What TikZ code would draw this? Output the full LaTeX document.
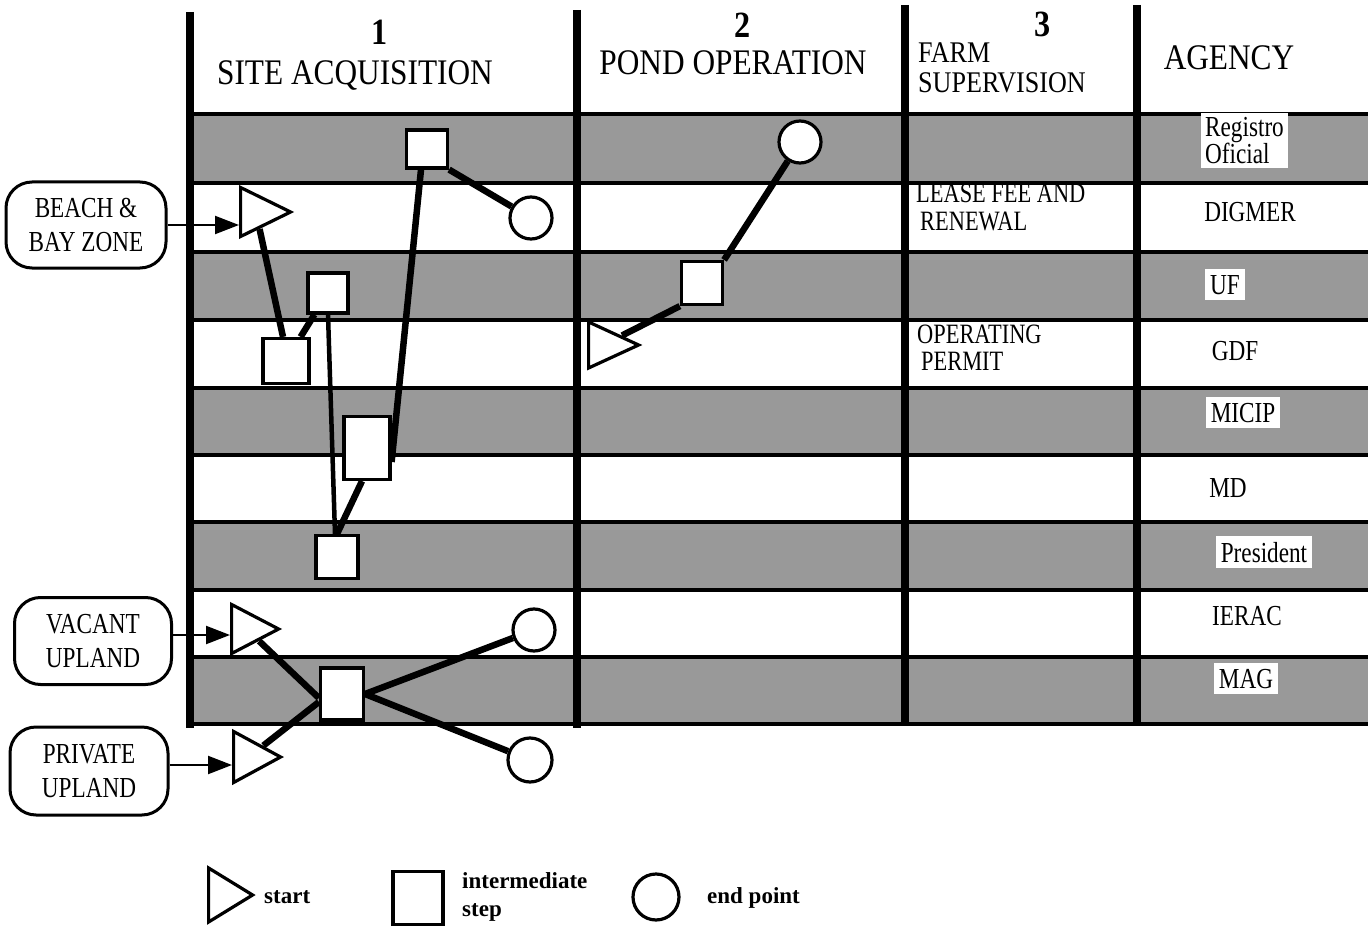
\documentclass[tikz,border=0pt]{standalone}
\usepackage{fontspec}
\setmainfont[FakeStretch=0.87]{Liberation Serif}
\newfontfamily\legendfont{Liberation Serif}
\newfontfamily\condfont[FakeStretch=0.8]{Liberation Serif}
\usetikzlibrary{shapes.geometric,arrows.meta,calc}
\begin{document}
\begin{tikzpicture}[x=1pt,y=-1pt,
  shaderow/.style={fill=black!40},
  hline/.style={line width=4.5pt},
  vline/.style={line width=8pt},
  startnode/.style={isosceles triangle, isosceles triangle stretches, draw, fill=white, line width=3.2pt, inner sep=0pt, anchor=west},
  stepbox/.style={rectangle, draw, fill=white, line width=3.2pt, inner sep=0pt},
  endbox/.style={circle, draw, fill=white, line width=3.2pt, inner sep=0pt, minimum size=42pt},
  conn/.style={line width=6.5pt},
  thinconn/.style={line width=4.5pt},
  feed/.style={line width=2.2pt, -{Triangle[length=24pt,width=18pt]}},
  srcbox/.style={draw, fill=white, rounded corners=26pt, line width=3pt, align=center, inner sep=0pt, font=\condfont\fontsize{29}{34}\selectfont},
  hnum/.style={font=\fontsize{37}{40}\selectfont\bfseries, inner sep=0pt},
  htext/.style={font=\fontsize{36}{40}\selectfont, inner sep=0pt},
  htextsm/.style={font=\fontsize{30}{34}\selectfont, inner sep=0pt, anchor=base west},
  celltext/.style={font=\condfont\fontsize{28}{28}\selectfont, inner sep=0pt, anchor=base west},
  agency/.style={font=\condfont\fontsize{29}{28}\selectfont, inner sep=0pt, anchor=base},
  agencyhl/.style={font=\condfont\fontsize{29}{28}\selectfont, fill=white, inner xsep=5pt, inner ysep=6pt, anchor=base},
  legendtext/.style={font=\legendfont\bfseries\fontsize{23}{26}\selectfont, inner sep=0pt, anchor=base west}
]
\useasboundingbox (0,0) rectangle (1368,928);

% shaded rows
\foreach \ya/\yb in {114/183, 252/320, 388/455, 522/590, 657/724}
  \fill[shaderow] (190,\ya) rectangle (1368,\yb);
% horizontal lines
\foreach \yy in {114,183,252,320,388,455,522,590,657,724}
  \draw[hline] (190,\yy) -- (1368,\yy);
% vertical lines
\draw[vline] (190,12) -- (190,728);
\draw[vline] (577,10) -- (577,728);
\draw[vline] (905,5) -- (905,724);
\draw[vline] (1137,5) -- (1137,722);

% headers
\node[hnum, anchor=base] (n1) at (380,45) {1};
\node[htext, anchor=base] (h1) at (355,85) {SITE ACQUISITION};
\node[hnum, anchor=base] (n2) at (743,38) {2};
\node[htext, anchor=base] (h2) at (733,75) {POND OPERATION};
\node[hnum, anchor=base] (n3) at (1043,37) {3};
\node[htextsm] (h3a) at (918,63) {FARM};
\node[htextsm] (h3b) at (918,93) {SUPERVISION};
\node[htext, anchor=base] (h4) at (1229,70) {AGENCY};

% column 3 texts
\node[celltext] (lease1) at (916,203) {LEASE FEE AND};
\node[celltext] (lease2) at (920,230) {RENEWAL};
\node[celltext] (op1) at (917,343) {OPERATING};
\node[celltext] (op2) at (921,370) {PERMIT};

% agency column
\node[font=\condfont\fontsize{29}{27}\selectfont, fill=white, align=left, inner xsep=4pt, inner ysep=4pt, anchor=north west] (reg) at (1201,113) {Registro\\Oficial};
\node[agency] (digmer) at (1250,222) {DIGMER};
\node[agencyhl] (uf) at (1225,294) {UF};
\node[agency] (gdf) at (1235,360) {GDF};
\node[agencyhl] (micip) at (1243,422) {MICIP};
\node[agency] (md) at (1228,497) {MD};
\node[agencyhl] (pres) at (1264,562) {President};
\node[agency] (ierac) at (1247,625) {IERAC};
\node[agencyhl] (mag) at (1246,688) {MAG};

% source boxes
\node[srcbox, minimum width=160pt, minimum height=86pt] (beach) at (86,225) {BEACH \&\\BAY ZONE};
\node[srcbox, minimum width=157pt, minimum height=87pt] (vacant) at (93,641) {VACANT\\UPLAND};
\node[srcbox, minimum width=158pt, minimum height=88pt] (private) at (89,771) {PRIVATE\\UPLAND};

% column 1 nodes (minimum width = base, minimum height = apex distance)
\node[startnode, minimum width=49pt, minimum height=50pt] (T1) at (239,212) {};
\node[stepbox, minimum width=41pt, minimum height=38pt] (A) at (427,149) {};
\node[endbox] (cA) at (531,218) {};
\node[stepbox, minimum width=40pt, minimum height=40pt] (B) at (328,293) {};
\node[stepbox, minimum width=46pt, minimum height=45pt] (C) at (286,361) {};
\node[stepbox, minimum width=46pt, minimum height=63pt] (D) at (367,448) {};
\node[stepbox, minimum width=42pt, minimum height=43pt] (E) at (337,557) {};
\node[startnode, minimum width=49pt, minimum height=47pt] (TV) at (230,629) {};
\node[startnode, minimum width=51pt, minimum height=47pt] (TP) at (232,757) {};
\node[stepbox, minimum width=43pt, minimum height=52pt] (F) at (342,694) {};
\node[endbox] (G) at (534,630) {};
\node[endbox, minimum size=44pt] (H) at (530,760) {};

% column 2 nodes
\node[endbox] (I) at (800,142) {};
\node[stepbox, minimum width=41pt, minimum height=43pt] (J) at (702,283) {};
\node[startnode, minimum width=46pt, minimum height=50pt] (K) at (587,345) {};

% feeds
\draw[feed] (beach.east) -- (beach.east -| T1.west);
\draw[feed] ([yshift=6pt]vacant.east) -- ([yshift=6pt]vacant.east -| TV.west);
\draw[feed] ([yshift=6pt]private.east) -- ([yshift=6pt]private.east -| TP.west);

% connectors column 1
\draw[conn] (A.south east) -- (cA);
\draw[conn] (T1) -- ($(C.north)+(-3,0)$);
\draw[conn] ($(C.north east)+(-10,0)$) -- ($(B.south west)+(8,0)$);
\draw[conn] ($(A.south)+(-6,0)$) -- ($(D.east)+(0,14)$);
\draw[thinconn] (B.south) -- ($(E.north)+(-2,0)$);
\draw[conn] ($(D.south)+(-5,0)$) -- (E.north);
\draw[conn] (TV) -- ($(F.west)+(0,4)$);
\draw[conn] (TP) -- ($(F.west)+(0,8)$);
\draw[conn] (F.east) -- (G);
\draw[conn] (F.east) -- (H);

% connectors column 2
\draw[conn] (K) -- (J.south west);
\draw[conn] (J.north east) -- (I);

% legend
\node[startnode, minimum width=54pt, minimum height=44pt] (ls) at (207,895) {};
\node[legendtext] (lst) at (264,903) {start};
\node[stepbox, minimum width=50pt, minimum height=53pt] (lq) at (418,898) {};
\node[legendtext] (lqt1) at (462,888) {intermediate};
\node[legendtext] (lqt2) at (462,916) {step};
\node[endbox, minimum size=46pt] (lc) at (656,897) {};
\node[legendtext] (lct) at (707,903) {end point};
\end{tikzpicture}
\end{document}
